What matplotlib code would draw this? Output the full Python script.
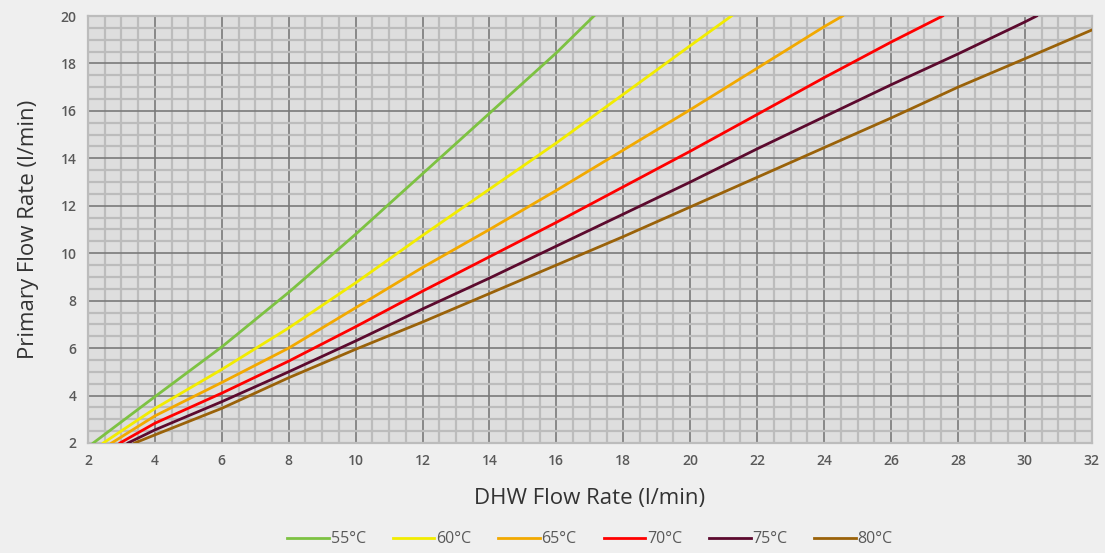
import matplotlib
matplotlib.use("Agg")
import matplotlib.pyplot as plt
from matplotlib.ticker import MultipleLocator

# Series (DHW flow rate -> primary flow rate)
labels = ["55°C", "60°C", "65°C", "70°C", "75°C", "80°C"]
colors = ["#7dc242", "#f2ec00", "#f2a900", "#ff0000", "#5c0a2e", "#9a6209"]

x_55 = [2.16, 4, 6, 8, 10, 12, 14, 16, 17.12]
y_55 = [2.0, 3.95, 6.05, 8.35, 10.8, 13.35, 15.9, 18.45, 20.0]

x_60 = [2.46, 4, 6, 8, 10, 12, 14, 16, 18, 20, 21.23]
y_60 = [2.0, 3.45, 5.1, 6.85, 8.75, 10.75, 12.7, 14.65, 16.7, 18.75, 20.0]

x_65 = [2.71, 4, 6, 8, 10, 12, 14, 16, 18, 20, 22, 24, 24.55]
y_65 = [2.0, 3.14, 4.55, 6.0, 7.7, 9.4, 11.0, 12.65, 14.35, 16.05, 17.8, 19.55, 20.0]

x_70 = [2.96, 4, 6, 8, 10, 12, 14, 16, 18, 20, 22, 24, 26, 27.54]
y_70 = [2.0, 2.83, 4.1, 5.45, 6.9, 8.4, 9.85, 11.3, 12.8, 14.3, 15.85, 17.4, 18.9, 20.0]

x_75 = [3.2, 4, 6, 8, 10, 12, 14, 16, 18, 20, 22, 24, 26, 28, 30, 30.35]
y_75 = [2.0, 2.55, 3.74, 5.0, 6.3, 7.65, 8.95, 10.3, 11.65, 13.0, 14.4, 15.75, 17.1, 18.4, 19.75, 20.0]

x_80 = [3.4, 4, 6, 8, 10, 12, 14, 16, 18, 20, 22, 24, 26, 28, 30, 32]
y_80 = [2.0, 2.34, 3.46, 4.75, 5.95, 7.1, 8.3, 9.5, 10.7, 11.95, 13.2, 14.45, 15.7, 17.0, 18.2, 19.41]

xs = [x_55, x_60, x_65, x_70, x_75, x_80]
ys = [y_55, y_60, y_65, y_70, y_75, y_80]

x_ticks = list(range(2, 33, 2))
y_ticks = list(range(2, 21, 2))

plt.rcParams['font.family'] = ['Open Sans', 'DejaVu Sans']

fig = plt.figure(figsize=(11.05, 5.53), dpi=100)
fig.patch.set_facecolor("#efefef")
ax = fig.add_axes([0.0796, 0.1990, 0.9084, 0.7720])
ax.set_facecolor("#dedede")

ax.set_xlim(2, 32)
ax.set_ylim(2, 20)
ax.set_xticks(x_ticks)
ax.set_yticks(y_ticks)
ax.xaxis.set_minor_locator(MultipleLocator(0.5))
ax.yaxis.set_minor_locator(MultipleLocator(0.5))
ax.grid(which="minor", color="#bcbcbc", linewidth=1.6, zorder=0)
ax.grid(which="major", color="#7a7a7a", linewidth=1.2, zorder=1)
ax.set_axisbelow(True)
ax.tick_params(which="both", length=0)
ax.tick_params(axis="both", labelsize=10, labelcolor="#595959", pad=8)
for lab in ax.get_xticklabels() + ax.get_yticklabels():
    lab.set_fontweight("semibold")
for s in ax.spines.values():
    s.set_color("#bcbcbc")
    s.set_linewidth(1.6)

for lab, c, x, y in zip(labels, colors, xs, ys):
    ax.plot(x, y, color=c, linewidth=2.0, label=lab, zorder=3)

ax.set_xlabel("DHW Flow Rate (l/min)", fontsize=16, color="#333333", labelpad=14)
ax.set_ylabel("Primary Flow Rate (l/min)", fontsize=16, color="#333333", labelpad=16)

leg = fig.legend(loc="center", bbox_to_anchor=(0.534, 0.025), ncol=6, frameon=False,
                 fontsize=11.5, handlelength=2.6, handletextpad=0.1, columnspacing=1.7)
for t in leg.get_texts():
    t.set_color("#595959")

fig.savefig("out.png", dpi=100, facecolor=fig.get_facecolor())
